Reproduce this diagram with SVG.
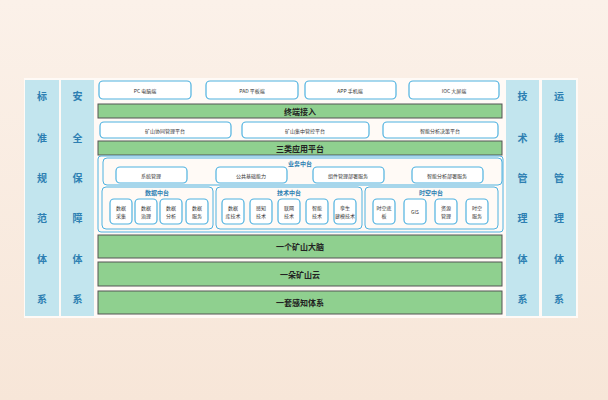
<svg xmlns="http://www.w3.org/2000/svg" width="608" height="400" viewBox="0 0 608 400">
<defs><linearGradient id="bg" x1="0" y1="0" x2="0" y2="1"><stop offset="0" stop-color="#fbf1e9"/><stop offset="1" stop-color="#f7e6d8"/></linearGradient></defs>
<style>
text{font-family:"Noto Sans CJK SC","Liberation Sans",sans-serif;text-anchor:middle;dominant-baseline:central}
.col{fill:#c2e5ee}.ct{font-size:10px;font-weight:bold;fill:#2d7fb2}
.wb{fill:#fff;stroke:#4fb2e0;stroke-width:1.2}
.gb{fill:#8fd08f;stroke:#555;stroke-width:1}
.gt{font-size:8px;font-weight:bold;fill:#222}
.s{font-size:5px;fill:#333}
.bt{font-size:6px;font-weight:bold;fill:#2d7fb2}
.ct2{fill:none;stroke:#4fb2e0;stroke-width:1}
</style>
<rect width="608" height="400" fill="url(#bg)"/>
<rect x="24" y="78" width="554" height="240" fill="#fffaf6"/>
<g id="c1"><rect class="col" x="25" y="80" width="34" height="236"/><text class="ct"><tspan x="42" y="95">标</tspan><tspan x="42" y="137">准</tspan><tspan x="42" y="177">规</tspan><tspan x="42" y="217">范</tspan><tspan x="42" y="258">体</tspan><tspan x="42" y="298">系</tspan></text></g>
<g id="c2"><rect class="col" x="61" y="80" width="33" height="236"/><text class="ct"><tspan x="77.5" y="95">安</tspan><tspan x="77.5" y="137">全</tspan><tspan x="77.5" y="177">保</tspan><tspan x="77.5" y="217">障</tspan><tspan x="77.5" y="258">体</tspan><tspan x="77.5" y="298">系</tspan></text></g>
<g id="c3"><rect class="col" x="506" y="80" width="33" height="236"/><text class="ct"><tspan x="522.5" y="95">技</tspan><tspan x="522.5" y="137">术</tspan><tspan x="522.5" y="177">管</tspan><tspan x="522.5" y="217">理</tspan><tspan x="522.5" y="258">体</tspan><tspan x="522.5" y="298">系</tspan></text></g>
<g id="c4"><rect class="col" x="542" y="80" width="34" height="236"/><text class="ct"><tspan x="559" y="95">运</tspan><tspan x="559" y="137">维</tspan><tspan x="559" y="177">管</tspan><tspan x="559" y="217">理</tspan><tspan x="559" y="258">体</tspan><tspan x="559" y="298">系</tspan></text></g>
<g id="terminals">
<rect class="wb" x="99" y="81" width="92" height="18" rx="4"/><text class="s" x="145" y="90">PC 电脑端</text>
<rect class="wb" x="206" y="81" width="92" height="18" rx="4"/><text class="s" x="252" y="90">PAD 平板端</text>
<rect class="wb" x="305" y="81" width="91" height="18" rx="4"/><text class="s" x="350" y="90">APP 手机端</text>
<rect class="wb" x="409" y="81" width="90" height="18" rx="4"/><text class="s" x="454" y="90">IOC 大屏端</text>
</g>
<g id="access"><rect class="gb" x="98" y="104" width="404" height="14"/><text class="gt" x="300" y="111">终端接入</text></g>
<g id="platforms">
<rect class="wb" x="100" y="122" width="131" height="16" rx="4"/><text class="s" x="165" y="130">矿山协同管理平台</text>
<rect class="wb" x="242" y="122" width="127" height="16" rx="4"/><text class="s" x="305" y="130">矿山集中管控平台</text>
<rect class="wb" x="383" y="122" width="115" height="16" rx="4"/><text class="s" x="440" y="130">智能分析决策平台</text>
</g>
<g id="apps"><rect class="gb" x="98" y="141" width="404" height="14"/><text class="gt" x="300" y="148">三类应用平台</text></g>
<g id="middle">
<rect class="ct2" x="98" y="156" width="405" height="76" rx="3"/>
<rect class="ct2" x="103" y="158" width="399" height="27" rx="4"/><text class="bt" x="300" y="163">业务中台</text>
<rect class="wb" x="116" y="167" width="71" height="16" rx="4"/><text class="s" x="151" y="175">系统管理</text>
<rect class="wb" x="216" y="167" width="71" height="16" rx="4"/><text class="s" x="251" y="175">公共基础能力</text>
<rect class="wb" x="313" y="167" width="71" height="16" rx="4"/><text class="s" x="348" y="175">组件管理部署服务</text>
<rect class="wb" x="412" y="167" width="71" height="16" rx="4"/><text class="s" x="447" y="175">智能分析部署服务</text>
<rect class="ct2" x="102" y="187" width="111" height="42" rx="4"/><text class="bt" x="157" y="192">数据中台</text>
<rect class="ct2" x="216" y="187" width="146" height="42" rx="4"/><text class="bt" x="289" y="192">技术中台</text>
<rect class="ct2" x="365" y="187" width="133" height="42" rx="4"/><text class="bt" x="431" y="192">时空中台</text>
<g class="s">
<rect class="wb" x="110" y="199" width="22" height="25" rx="4"/><text x="121" y="207">数据</text><text x="121" y="215">采集</text>
<rect class="wb" x="135" y="199" width="22" height="25" rx="4"/><text x="146" y="207">数据</text><text x="146" y="215">治理</text>
<rect class="wb" x="160" y="199" width="22" height="25" rx="4"/><text x="171" y="207">数据</text><text x="171" y="215">分析</text>
<rect class="wb" x="186" y="199" width="22" height="25" rx="4"/><text x="197" y="207">数据</text><text x="197" y="215">服务</text>
<rect class="wb" x="222" y="199" width="22" height="25" rx="4"/><text x="233" y="207">数据</text><text x="233" y="215">库技术</text>
<rect class="wb" x="250" y="199" width="22" height="25" rx="4"/><text x="261" y="207">感知</text><text x="261" y="215">技术</text>
<rect class="wb" x="278" y="199" width="22" height="25" rx="4"/><text x="289" y="207">联网</text><text x="289" y="215">技术</text>
<rect class="wb" x="306" y="199" width="22" height="25" rx="4"/><text x="317" y="207">智能</text><text x="317" y="215">技术</text>
<rect class="wb" x="334" y="199" width="22" height="25" rx="4"/><text x="345" y="207">孪生</text><text x="345" y="215">建模技术</text>
<rect class="wb" x="373" y="199" width="22" height="25" rx="4"/><text x="384" y="207">时空底</text><text x="384" y="215">板</text>
<rect class="wb" x="404" y="199" width="22" height="25" rx="4"/><text x="415" y="211">GIS</text>
<rect class="wb" x="435" y="199" width="22" height="25" rx="4"/><text x="446" y="207">资源</text><text x="446" y="215">管理</text>
<rect class="wb" x="466" y="199" width="22" height="25" rx="4"/><text x="477" y="207">时空</text><text x="477" y="215">服务</text>
</g>
</g>
<g id="brain"><rect class="gb" x="98" y="235" width="404" height="23"/><text class="gt" x="300" y="246.5">一个矿山大脑</text></g>
<g id="cloud"><rect class="gb" x="98" y="262" width="404" height="24"/><text class="gt" x="300" y="274">一朵矿山云</text></g>
<g id="sense"><rect class="gb" x="98" y="291" width="404" height="23"/><text class="gt" x="300" y="302.5">一套感知体系</text></g>
<g id="connectors"/>
</svg>
